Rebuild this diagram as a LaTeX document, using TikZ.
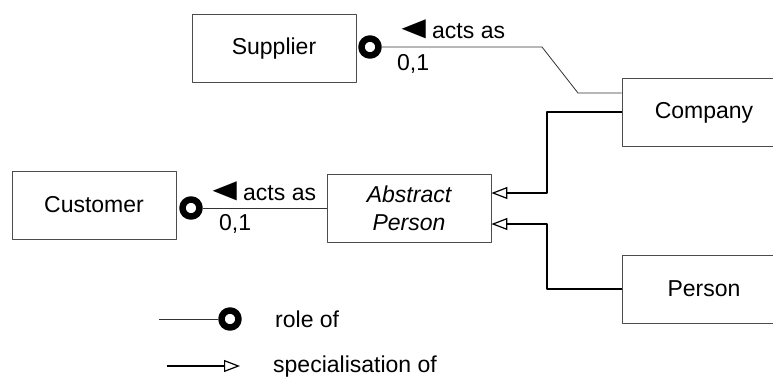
\documentclass[tikz,border=0pt]{standalone}
\usepackage{fontspec}
\setmainfont{Liberation Sans}
\usetikzlibrary{arrows.meta}
\newcommand{\actsmark}{\llap{\scalebox{1.75}[1.4]{◄}\kern-1.5pt}}
\tikzset{
	entity/.style={draw=black!70,line width=0.8pt,minimum width=164pt,minimum height=68pt,inner sep=0pt,align=center},
	rolering/.style={circle,draw=black,fill=white,line width=6.5pt,minimum size=17pt,inner sep=0pt},
	roleline/.style={draw=black!80,line width=0.8pt},
	specline/.style={draw=black,line width=1.2pt,-{Triangle[open,length=16pt,width=12pt]}},
	note/.style={inner sep=0pt,anchor=base west}
}
\begin{document}
\begin{tikzpicture}[x=1pt,y=-1pt,line join=round,font=\fontsize{23}{28}\selectfont]
				\useasboundingbox (0,0) rectangle (773,376);
				\clip (0,0) rectangle (773,376);
				\node[entity] (Supplier) at (274,48.5) {Supplier};
				\node[entity] (Customer) at (94,205) {Customer};
				\node[entity,font=\fontsize{23}{28}\selectfont\itshape] (Abstract) at (409,208) {Abstract\\Person};
				\node[entity] (Company) at (704,112.5) {Company};
				\node[entity] (Person) at (704,289) {Person};
				\node[rolering] (supRole) at (370,47) {};
				\node[rolering] (custRole) at (191,208) {};
				\coordinate (s1) at (578,93);
				\coordinate (s2) at (542,47);
				\draw[roleline] (s1 -| Company.west) -- (s1) -- (s2) -- (supRole);
				\draw[roleline] (Abstract.west) -- (custRole);
				\coordinate (c1) at (547,112);
				\coordinate (c2) at (547,193);
				\draw[specline] (c1 -| Company.west) -- (c1) -- (c2) -- (c2 -| Abstract.east);
				\coordinate (p1) at (547,289);
				\coordinate (p2) at (547,224);
				\draw[specline] (Person.west) -- (p1) -- (p2) -- (p2 -| Abstract.east);
				\node[note] (supActs) at (432,38) {\actsmark acts as};
				\node[note] (supCard) at (397,70) {0,1};
				\node[note] (custActs) at (243,200) {\actsmark acts as};
				\node[note] (custCard) at (219,230) {0,1};
				% legend
				\coordinate (legRoleStart) at (159,319);
				\node[rolering] (legRole) at (230,319) {};
				\draw[roleline] (legRoleStart) -- (legRole);
				\node[note] (legRoleText) at (275,327) {role of};
				\coordinate (legSpecStart) at (167,366);
				\coordinate (legSpecEnd) at (240,366);
				\draw[specline] (legSpecStart) -- (legSpecEnd);
				\node[note] (legSpecText) at (273,372) {specialisation of};
			\end{tikzpicture}
\end{document}
